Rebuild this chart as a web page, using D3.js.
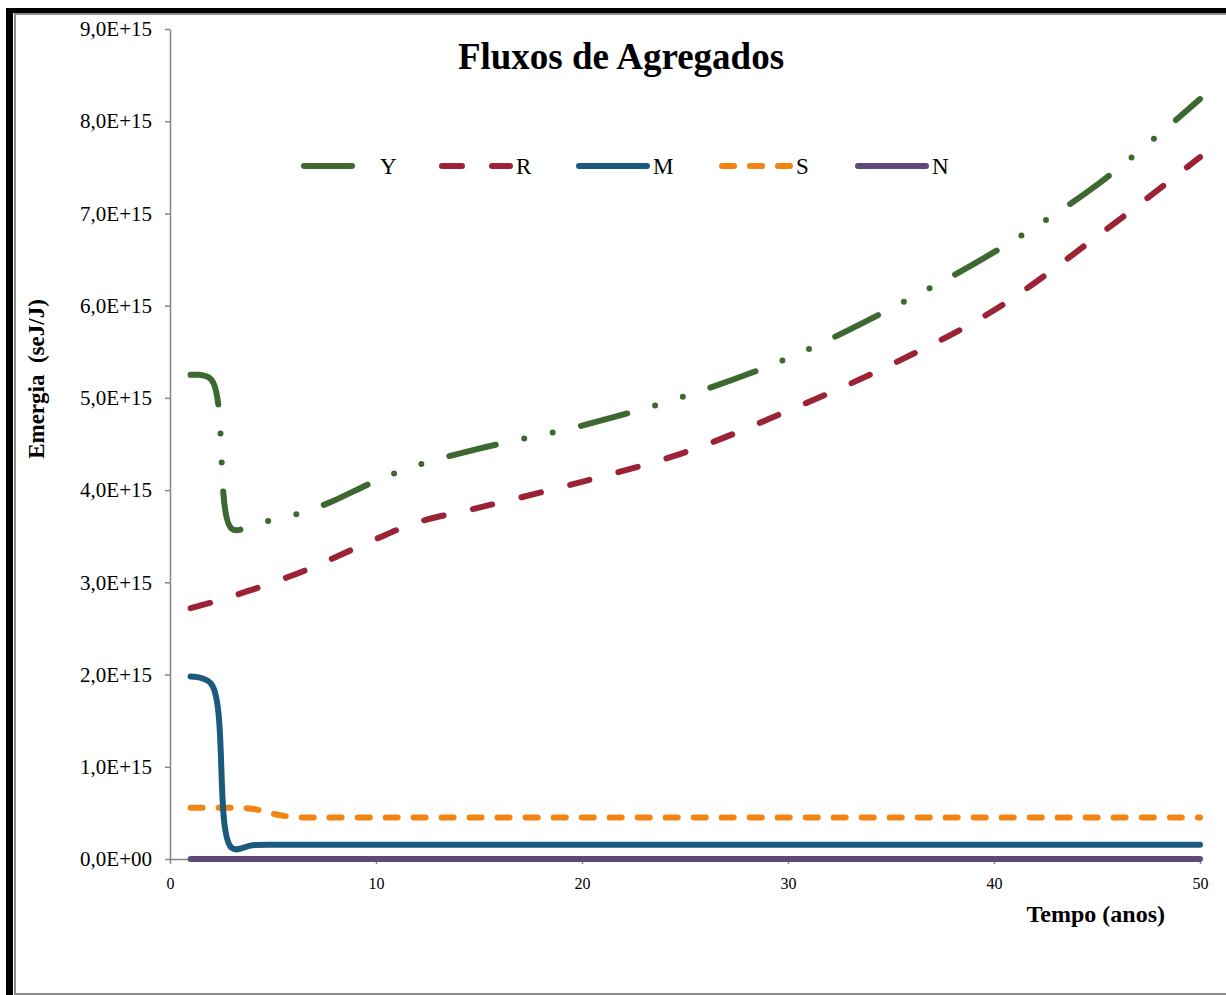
<!DOCTYPE html>
<html>
<head>
<meta charset="utf-8">
<script src="https://cdn.jsdelivr.net/npm/d3@7"></script>
<style>
  body { margin: 0; background: #fff; }
  text { font-family: "Liberation Serif", "Times New Roman", serif; fill: #000; }
</style>
</head>
<body>
<div id="chart"></div>
<script>
"use strict";
// anos (eixo x) onde os valores foram lidos
var anos = [1, 2, 3, 4, 5, 6, 7, 8, 10, 12, 15, 20, 25, 30, 35, 40, 45, 50];

// series em seJ/J
var serieY = [5.25e15, 5.2e15, 3.58e15, 3.62e15, 3.68e15, 3.73e15, 3.8e15, 3.89e15, 4.1e15, 4.27e15, 4.45e15, 4.7e15, 5.02e15, 5.43e15, 5.97e15, 6.58e15, 7.31e15, 8.24e15];
var serieR = [2.72e15, 2.78e15, 2.85e15, 2.92e15, 3.0e15, 3.08e15, 3.17e15, 3.27e15, 3.47e15, 3.65e15, 3.81e15, 4.09e15, 4.41e15, 4.86e15, 5.36e15, 5.95e15, 6.75e15, 7.61e15];
var serieM = [1.98e15, 1.9e15, 0.12e15, 0.15e15, 0.155e15, 0.155e15, 0.155e15, 0.155e15, 0.155e15, 0.155e15, 0.155e15, 0.155e15, 0.155e15, 0.155e15, 0.155e15, 0.155e15, 0.155e15, 0.155e15];
var serieS = [0.555e15, 0.555e15, 0.555e15, 0.545e15, 0.49e15, 0.455e15, 0.45e15, 0.45e15, 0.45e15, 0.45e15, 0.45e15, 0.45e15, 0.45e15, 0.45e15, 0.45e15, 0.45e15, 0.45e15, 0.45e15];
var serieN = [0, 0, 0, 0, 0, 0, 0, 0, 0, 0, 0, 0, 0, 0, 0, 0, 0, 0];

var nomes = ["Y", "R", "M", "S", "N"];
var xTicks = [0, 10, 20, 30, 40, 50];
var yTicks = [0, 1e15, 2e15, 3e15, 4e15, 5e15, 6e15, 7e15, 8e15, 9e15];

var w = 1226, h = 995;

var estilos = {
  Y: { cor: "#3d6831", dash: "48,29,0,29,0,29", valores: serieY },
  R: { cor: "#9b2335", dash: "20,30", valores: serieR },
  M: { cor: "#1c5a7d", dash: null, valores: serieM },
  S: { cor: "#f28410", dash: "12,16", valores: serieS },
  N: { cor: "#5f497a", dash: null, valores: serieN }
};

var svg = d3.select("#chart").append("svg")
  .attr("width", w)
  .attr("height", h);

//moldura com sombra preta
svg.append("rect").attr("x", 6).attr("y", 8).attr("width", w).attr("height", h).attr("fill", "#000");
svg.append("rect").attr("x", 13).attr("y", 13).attr("width", w).attr("height", h).attr("fill", "#fff");
svg.append("rect").attr("x", 15).attr("y", 14).attr("width", w + 10).attr("height", 980)
  .attr("fill", "none").attr("stroke", "#8c8c8c").attr("stroke-width", 2);

var x = d3.scaleLinear().domain([0, 50]).range([170, 1200]);
var y = d3.scaleLinear().domain([0, 9e15]).range([859, 29]);

function fmt(v) {
  if (v === 0) return "0,0E+00";
  return (v / 1e15).toFixed(1).replace(".", ",") + "E+15";
}

var gy = svg.append("g")
  .attr("transform", "translate(170,0)")
  .call(d3.axisLeft(y).tickValues(yTicks).tickFormat(fmt).tickSize(5).tickSizeOuter(0).tickPadding(13));
gy.selectAll("text").style("font-size", "21px").style("font-family", "Liberation Serif");

var gx = svg.append("g")
  .attr("transform", "translate(0,859)")
  .call(d3.axisBottom(x).tickValues(xTicks).tickSize(5).tickSizeOuter(0).tickPadding(14));
gx.selectAll("text").style("font-size", "16px").style("font-family", "Liberation Serif");

svg.selectAll(".domain, .tick line")
  .attr("stroke", "#868686")
  .attr("stroke-width", 1.5);

var linha = d3.line()
  .x(function(d) { return x(d[0]); })
  .y(function(d) { return y(d[1]); })
  .curve(d3.curveCatmullRom.alpha(0.5));

//ordem de desenho: S antes de M
["Y", "R", "S", "M", "N"].forEach(function(n) {
  var e = estilos[n];
  var pts = anos.map(function(a, i) { return [a, e.valores[i]]; });
  svg.append("path")
    .datum(pts)
    .attr("d", linha)
    .attr("fill", "none")
    .attr("stroke", e.cor)
    .attr("stroke-width", 6)
    .attr("stroke-linecap", "round")
    .attr("stroke-linejoin", "round")
    .attr("stroke-dasharray", e.dash);
});

//legenda
var legX = [301, 439, 576, 719, 855];
var legY = 166;
nomes.forEach(function(n, i) {
  var e = estilos[n];
  svg.append("line")
    .attr("x1", legX[i] + 3).attr("x2", legX[i] + 71)
    .attr("y1", legY).attr("y2", legY)
    .attr("stroke", e.cor)
    .attr("stroke-width", 6)
    .attr("stroke-linecap", "round")
    .attr("stroke-dasharray", e.dash);
  svg.append("text")
    .attr("x", n === "Y" ? legX[i] + 79 : legX[i] + 77)
    .attr("y", legY + 8)
    .style("font-size", "23px")
    .text(n);
});

svg.append("text")
  .attr("x", 621).attr("y", 69)
  .attr("text-anchor", "middle")
  .style("font-size", "37px").style("font-weight", "bold")
  .text("Fluxos de Agregados");

svg.append("text")
  .attr("transform", "translate(44,379) rotate(-90)")
  .attr("text-anchor", "middle")
  .style("font-size", "23px").style("font-weight", "bold")
  .style("white-space", "pre")
  .text("Emergia  (seJ/J)");

svg.append("text")
  .attr("x", 1165).attr("y", 922)
  .attr("text-anchor", "end")
  .style("font-size", "24px").style("font-weight", "bold")
  .text("Tempo (anos)");
</script>
</body>
</html>
